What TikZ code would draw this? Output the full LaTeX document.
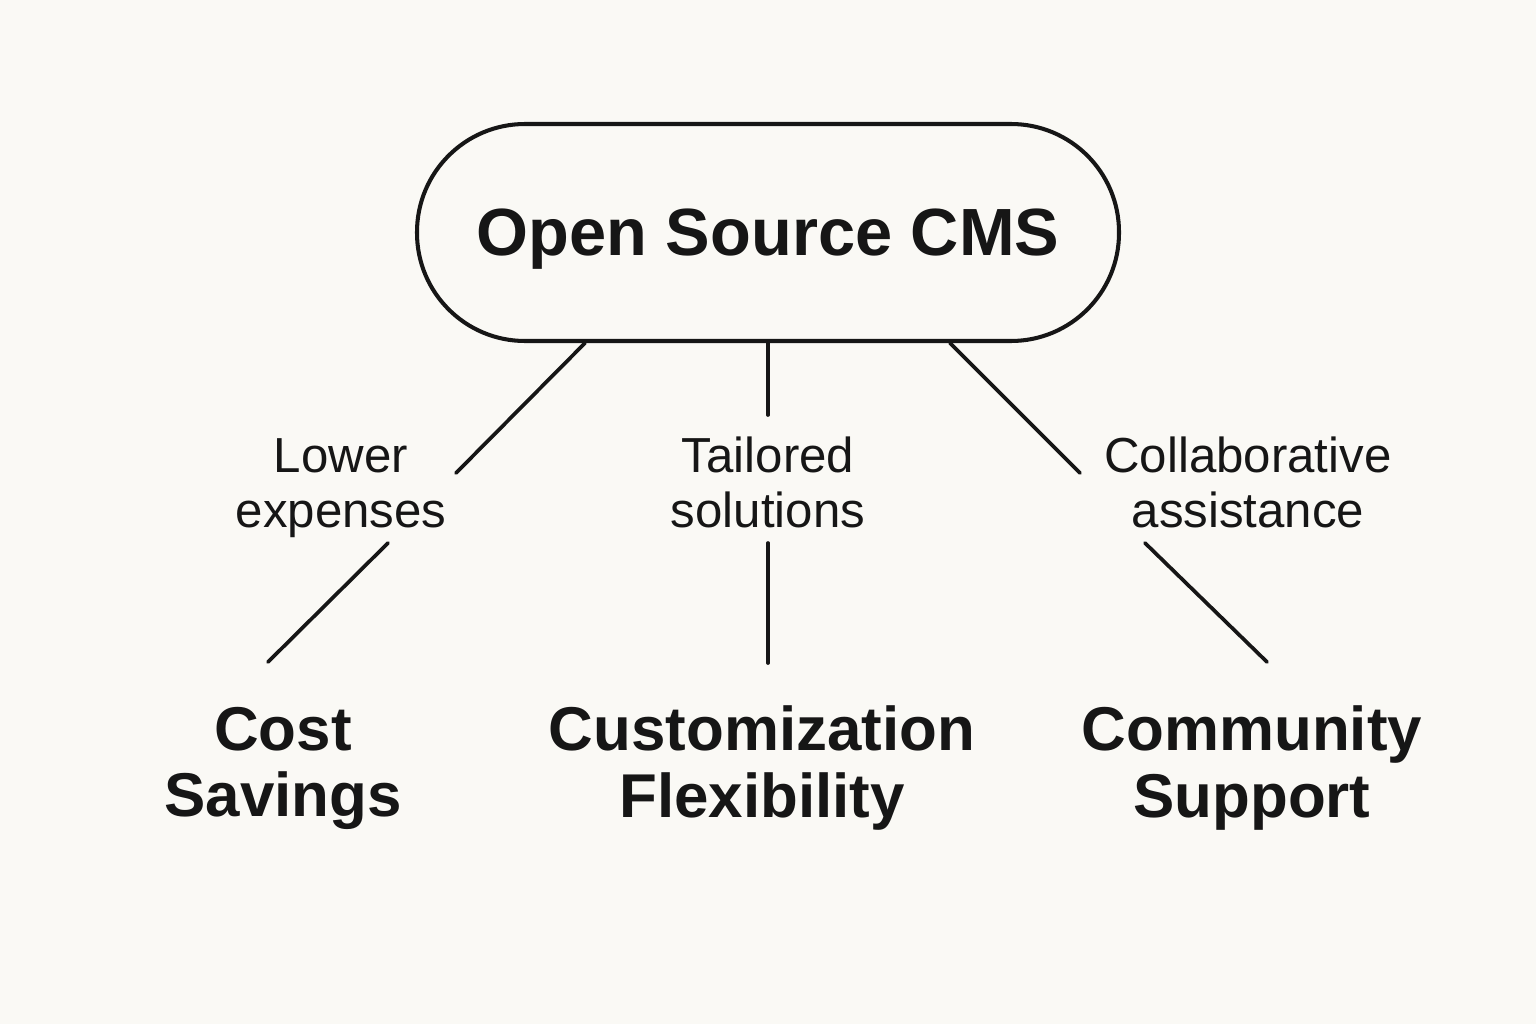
\documentclass[tikz,border=0pt]{standalone}
\usepackage{fontspec}
\setsansfont{Liberation Sans}
\usetikzlibrary{calc}
\definecolor{ink}{HTML}{161616}
\definecolor{paper}{HTML}{FAF9F5}

\begin{document}
\begin{tikzpicture}[line cap=round,line join=round,font=\sffamily]
  \tikzset{
    pill/.style={draw=ink,line width=1.15pt,rounded corners=1.08cm,minimum width=7.02cm,minimum height=2.17cm,
      text=ink,font=\sffamily\bfseries\fontsize{19}{21}\selectfont,text depth=0pt},
    edgelabel/.style={text=ink,align=center,inner sep=0pt,text height=0.9cm,text depth=0pt,
      font=\sffamily\fontsize{14}{15.6}\selectfont},
    leaf/.style={text=ink,align=center,inner sep=0pt,font=\sffamily\bfseries\fontsize{17.6}{18.8}\selectfont},
    link/.style={ink,line width=1.05pt}
  }
  \fill[paper] (0,0) rectangle (15.36,10.24);
  \useasboundingbox (0,0) rectangle (15.36,10.24);

  % Root.
  \node[pill] (cms) at (7.68,7.915) {Open Source CMS};

  % Edge labels.
  \node[edgelabel] (lower) at (3.41,5.42) {Lower\\expenses};
  \node[edgelabel] (tailored) at (7.68,5.42) {Tailored\\solutions};
  \node[edgelabel] (collab) at (12.48,5.42) {Collaborative\\assistance};

  % Leaves.
  \node[leaf] (cost) at (2.83,2.56) {Cost\\Savings};
  \node[leaf] (custom) at (7.62,2.56) {Customization\\Flexibility};
  \node[leaf] (community) at (12.52,2.56) {Community\\Support};

  % Free ends of the links.
  \coordinate (lowerin) at (4.56,5.51);
  \coordinate (lowerout) at (3.88,4.81);
  \coordinate (costin) at (2.68,3.62);
  \coordinate (tailoredin) at (7.68,6.09);
  \coordinate (tailoredout) at (7.68,4.81);
  \coordinate (customin) at (7.68,3.61);
  \coordinate (collabin) at (10.80,5.51);
  \coordinate (collabout) at (11.45,4.81);
  \coordinate (communityin) at (12.67,3.62);

  \draw[link] ([xshift=-1.83cm]cms.south) -- (lowerin);
  \draw[link] (lowerout) -- (costin);
  \draw[link] (cms.south) -- (tailoredin);
  \draw[link] (tailoredout) -- (customin);
  \draw[link] ([xshift=1.82cm]cms.south) -- (collabin);
  \draw[link] (collabout) -- (communityin);
\end{tikzpicture}
\end{document}
